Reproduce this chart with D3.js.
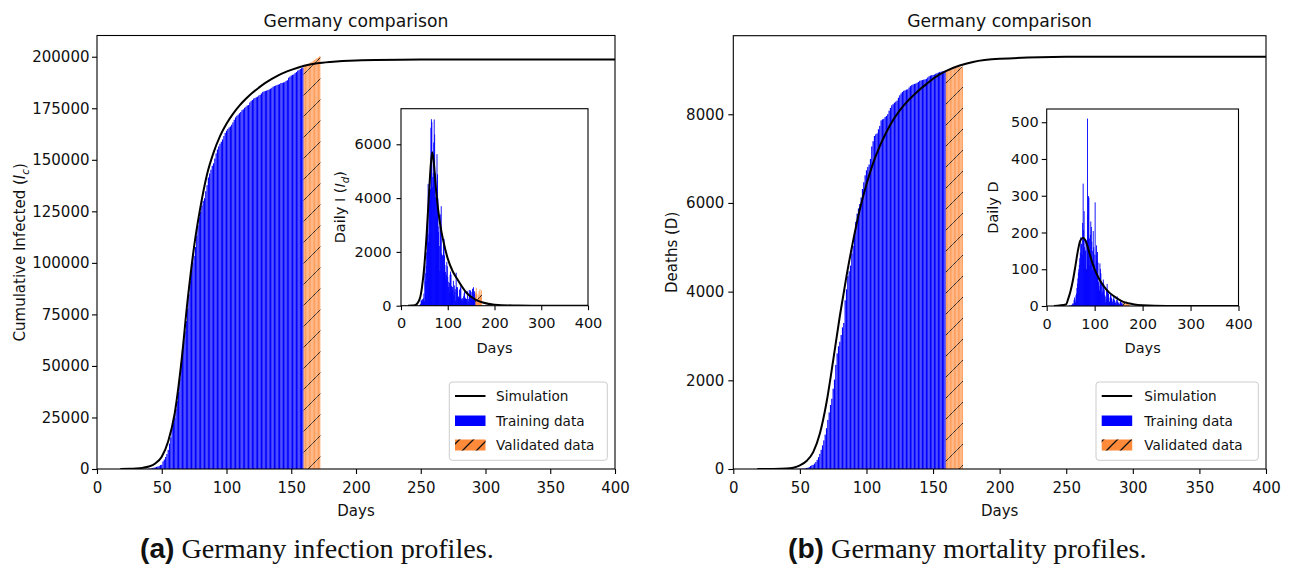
<!DOCTYPE html>
<html><head><meta charset="utf-8">
<script src="https://cdn.jsdelivr.net/npm/d3@7"></script>
<style>
body{margin:0;background:#fff}
svg{display:block}
text{font-family:"DejaVu Sans",sans-serif;fill:#111}
</style></head>
<body><svg id="c" width="1295" height="567"></svg>
<script>
// ---------------- DATA ----------------
const dataStartDay = 40;     // first day of the data arrays
const trainEndDay = 159;     // last day of training data (later days = validated data)

// cumulative confirmed infections, days 40..172
const cumInfected = [
159,196,262,482,670,799,1040,1176,1457,1908,
2078,3675,4585,5795,7272,9257,12327,15320,19848,22213,
24873,29056,32986,37323,43938,50871,57695,62095,66885,71808,
77872,84794,91159,96092,100123,103374,107663,113296,118181,122171,
124908,127854,130072,131359,134753,137698,141397,143342,145184,147065,
148291,150648,153129,154999,156513,157770,158758,159912,161539,163009,
164077,164967,165664,166152,167007,168162,169430,170588,171324,171879,
172576,173171,174098,174478,175233,175752,176369,176551,177778,178473,
179021,179710,179986,180328,180600,181200,181524,182196,182922,183189,
183410,183594,183879,184121,184472,184924,185450,185750,186022,186269,
186522,186691,187226,187267,187518,187671,188252,188604,189817,190359,
190862,191216,191449,192079,192556,193243,193499,194036,194458,194725,
195228,195893,196335,196554,196780,197198,197523,198064,198343,198963,
199375,199709,200260];

// daily new infections, days 40..172
const dailyInfected = [
29,37,66,220,188,129,241,136,281,451,
170,1597,910,1210,1477,1985,3070,2993,4528,2365,
2660,4183,3930,4337,6615,6933,6824,4400,4790,4923,
6064,6922,6365,4933,4031,3251,4289,5633,4885,3990,
2737,2946,2218,1287,3394,2945,3699,1945,1842,1881,
1226,2357,2481,1870,1514,1257,988,1154,1627,1470,
1068,890,697,488,855,1155,1268,1158,736,555,
697,595,927,380,755,519,617,182,1227,695,
548,689,276,342,272,600,324,672,726,267,
221,184,285,242,351,452,526,300,272,247,
253,169,535,41,251,153,581,352,580,542,
503,354,233,630,477,687,256,537,422,267,
503,665,442,219,226,418,325,541,279,620,
412,334,571];

// cumulative deaths, days 40..172
const cumDeaths = [
0,0,0,0,0,0,0,2,2,3,
3,5,8,11,16,24,28,44,67,84,
94,123,157,206,267,342,433,533,645,775,
920,1107,1275,1444,1584,1810,2016,2349,2607,2767,
2871,3022,3194,3294,3804,4052,4352,4459,4586,4862,
5033,5279,5575,5760,5877,5976,6126,6314,6467,6623,
6736,6812,6866,6993,7275,7392,7510,7549,7569,7661,
7738,7861,7884,7897,7938,7962,8003,8081,8144,8203,
8228,8261,8283,8309,8372,8428,8470,8504,8530,8540,
8555,8563,8602,8635,8658,8673,8685,8692,8709,8729,
8755,8763,8772,8781,8787,8800,8830,8856,8872,8882,
8887,8895,8914,8928,8940,8954,8961,8968,8976,8985,
8990,9000,9010,9015,9020,9024,9032,9044,9052,9060,
9064,9067,9071];

// daily deaths, days 40..172
const dailyDeaths = [
0,0,0,0,0,0,0,2,0,1,
0,2,3,3,5,8,4,16,23,17,
10,29,34,49,61,75,91,100,112,130,
145,187,168,169,140,226,333,206,258,160,
104,151,172,100,180,510,248,299,295,184,
110,194,230,215,175,98,150,204,160,140,
113,282,94,139,165,123,147,118,66,54,
42,116,101,89,67,33,39,63,72,60,
45,30,26,10,18,45,60,43,39,33,
10,12,23,31,30,22,18,12,6,20,
26,17,14,10,8,4,16,26,12,10,
8,3,5,10,12,14,7,6,3,8,
12,9,8,7,3,4,6,12,9,8,
5,2,6];

const simDaysCumI = [18,25,30,35,40,45,50,55,60,65,70,75,80,85,90,95,100,105,110,115,120,125,130,135,140,145,150,160,170,180,200,250,300,400];
const simCumI     = [0,100,250,550,1200,2700,6000,13500,27000,51000,82000,108000,127500,143000,153500,161500,167500,172300,176300,179600,182500,185000,187300,189300,191000,192400,193600,195600,196800,197500,198200,198600,198700,198700];

const simDaysCumD = [18,30,40,45,50,55,60,65,70,75,80,85,90,95,100,105,110,115,120,125,130,135,140,145,150,155,160,170,180,200,250,300,400];
const simCumD     = [0,2,10,30,80,180,380,800,1500,2450,3450,4350,5150,5850,6420,6900,7280,7600,7870,8090,8270,8420,8560,8680,8800,8900,8980,9100,9180,9250,9295,9300,9300];

const simDaysDailyI = [15,30,40,45,50,55,60,64,67,70,75,80,85,90,100,110,120,130,140,150,160,175,200,250,300,400];
const simDailyI     = [0,20,250,700,1500,2700,4200,5300,5700,5350,4300,3500,2900,2450,1750,1300,1000,720,480,330,220,120,40,5,0,0];

const simDaysDailyD = [15,40,45,50,55,60,65,70,76,80,85,90,95,100,110,120,130,140,150,160,180,200,250,400];
const simDailyD     = [0,4,20,42,72,110,150,178,186,180,163,140,118,100,72,52,37,27,18,11,5,2,0,0];

// ticks
const xTicksMain  = [0,50,100,150,200,250,300,350,400];
const xTicksInset = [0,100,200,300,400];
const yTicksCumI  = [0,25000,50000,75000,100000,125000,150000,175000,200000];
const yTicksCumD  = [0,2000,4000,6000,8000];
const yTicksDailyI = [0,2000,4000,6000];
const yTicksDailyD = [0,100,200,300,400,500];

const legendLabels = ["Simulation","Training data","Validated data"];
const titleText = "Germany comparison";

// ---------------- DRAWING ----------------
const COL = {train:"#0000ff", valid:"#ff8a3a", sim:"#000"};
const svg = d3.select("#c");
const defs = svg.append("defs");
defs.append("pattern").attr("id","hatch").attr("patternUnits","userSpaceOnUse")
  .attr("width",21).attr("height",21)
  .append("path").attr("d","M0,21L21,0M-6,6L6,-6M15,27L27,15")
  .attr("stroke","#222").attr("stroke-width",1);
defs.append("pattern").attr("id","hatchLeg").attr("patternUnits","userSpaceOnUse")
  .attr("width",14).attr("height",14).attr("x",3).attr("y",0)
  .append("path").attr("d","M0,14L14,0M-4,4L4,-4M10,18L18,10")
  .attr("stroke","#111").attr("stroke-width",1.3);

function axes(o){
  const [x0,y0,x1,y1] = o.box;
  const g = svg.append("g");
  const xs = d3.scaleLinear().domain([0,400]).range([x0,x1]);
  const ys = d3.scaleLinear().domain(o.yDomain).range([y1,y0]);
  if(o.bg) g.append("rect").attr("x",x0).attr("y",y0).attr("width",x1-x0).attr("height",y1-y0).attr("fill","#fff");
  defs.append("clipPath").attr("id","clip"+o.id).append("rect")
    .attr("x",x0).attr("y",y0).attr("width",x1-x0).attr("height",y1-y0);
  const plot = g.append("g").attr("clip-path",`url(#clip${o.id})`);
  const days = d3.range(dataStartDay, dataStartDay + o.values.length);
  const pts = days.map((d,i)=>({d, v:o.values[i]})).filter(p=>p.v>0);
  const bw = p => Math.max(xs(p.d+o.bar/2)-xs(p.d-o.bar/2), o.minW);
  const bx = p => xs(p.d) - bw(p)/2;
  plot.selectAll(null).data(pts).join("rect")
    .attr("x",bx).attr("width",bw)
    .attr("y",p=>ys(p.v)).attr("height",p=>ys(0)-ys(p.v))
    .attr("fill",p=>p.d<=trainEndDay?COL.train:COL.valid)
    .attr("fill-opacity",p=>p.d<=trainEndDay?1:0.82);
  plot.selectAll(null).data(pts.filter(p=>p.d>trainEndDay)).join("rect")
    .attr("x",bx).attr("width",bw)
    .attr("y",p=>ys(p.v)).attr("height",p=>ys(0)-ys(p.v))
    .attr("fill","url(#hatch)");
  plot.append("path")
    .datum(o.simDays.map((d,i)=>[d,o.simVals[i]]))
    .attr("d",d3.line().x(d=>xs(d[0])).y(d=>ys(d[1])).curve(d3.curveMonotoneX))
    .attr("fill","none").attr("stroke",COL.sim).attr("stroke-width",2);
  g.append("rect").attr("x",x0).attr("y",y0).attr("width",x1-x0).attr("height",y1-y0)
    .attr("fill","none").attr("stroke","#000").attr("stroke-width",1.1);
  const ax = g.append("g").attr("transform",`translate(0,${y1})`)
    .call(d3.axisBottom(xs).tickValues(o.xTicks).tickSize(o.tick).tickPadding(8).tickSizeOuter(0).tickFormat(d3.format("d")));
  const ay = g.append("g").attr("transform",`translate(${x0},0)`)
    .call(d3.axisLeft(ys).tickValues(o.yTicks).tickSize(o.tick).tickPadding(o.ypad).tickSizeOuter(0).tickFormat(d3.format("d")));
  [ax,ay].forEach(a=>{
    a.select(".domain").remove();
    a.attr("font-size",o.fs).attr("font-family","DejaVu Sans");
    a.selectAll("line").attr("stroke","#000").attr("stroke-width",1.1);
    a.selectAll("text").attr("fill","#111");
  });
  g.append("text").attr("x",(x0+x1)/2).attr("y",o.xlabelY).attr("text-anchor","middle")
    .attr("font-size",o.fs).text("Days");
  const yl = g.append("text").attr("transform",`translate(${o.ylabelX},${(y0+y1)/2}) rotate(-90)`)
    .attr("text-anchor","middle").attr("font-size",o.fs);
  o.ylabel.forEach(part=>{
    const t = yl.append("tspan").text(part.t);
    if(part.it) t.attr("font-style","italic");
    if(part.sub) t.attr("font-size",o.fs*0.7).attr("dy",4);
    if(part.up) t.attr("dy",-4);
  });
  return {xs,ys,g};
}

function legend(b){
  const g = svg.append("g");
  g.append("rect").attr("x",b.x).attr("y",382).attr("width",b.w).attr("height",78.3).attr("rx",3)
    .attr("fill","#fff").attr("fill-opacity",0.8).attr("stroke","#cccccc").attr("stroke-width",1);
  const lx = b.x + 5.7, tx = b.tx;
  g.append("line").attr("x1",lx).attr("x2",lx+30.5).attr("y1",396).attr("y2",396)
    .attr("stroke","#000").attr("stroke-width",2);
  g.append("rect").attr("x",lx).attr("y",415.5).attr("width",30.5).attr("height",10.5).attr("fill",COL.train);
  g.append("rect").attr("x",lx).attr("y",439.5).attr("width",30.5).attr("height",11).attr("fill",COL.valid);
  g.append("rect").attr("x",lx).attr("y",439.5).attr("width",30.5).attr("height",11).attr("fill","url(#hatchLeg)");
  [401,425.5,450].forEach((y,i)=>g.append("text").attr("x",tx).attr("y",y).attr("font-size",13.6).text(legendLabels[i]));
}

// ---- panel (a) ----
axes({id:"a", box:[97,35.5,615,469], yDomain:[0,210300], values:cumInfected, bar:0.9, minW:0,
  simDays:simDaysCumI, simVals:simCumI, xTicks:xTicksMain, yTicks:yTicksCumI,
  fs:15, tick:5, ypad:2.5, xlabelY:515.5, ylabelX:24.5,
  ylabel:[{t:"Cumulative Infected ("},{t:"I",it:true},{t:"c",sub:true,it:true},{t:")",up:true}]});
legend({x:449.3, w:158, tx:496});
axes({id:"ai", bg:true, box:[401,108.7,588,305.7], yDomain:[0,7323], values:dailyInfected, bar:0.8, minW:0.9,
  simDays:simDaysDailyI, simVals:simDailyI, xTicks:xTicksInset, yTicks:yTicksDailyI,
  fs:14.5, tick:4.5, ypad:5, xlabelY:352.5, ylabelX:344.5,
  ylabel:[{t:"Daily I ("},{t:"I",it:true},{t:"d",sub:true,it:true},{t:")",up:true}]});

// ---- panel (b) ----
axes({id:"b", box:[733.3,35.7,1266,469], yDomain:[0,9772], values:cumDeaths, bar:0.9, minW:0,
  simDays:simDaysCumD, simVals:simCumD, xTicks:xTicksMain, yTicks:yTicksCumD,
  fs:15, tick:5, ypad:4, xlabelY:515.5, ylabelX:676.5,
  ylabel:[{t:"Deaths (D)"}]});
legend({x:1096, w:162.3, tx:1144.3});
axes({id:"bi", bg:true, box:[1046.7,109,1238.5,306], yDomain:[0,536], values:dailyDeaths, bar:0.8, minW:0.9,
  simDays:simDaysDailyD, simVals:simDailyD, xTicks:xTicksInset, yTicks:yTicksDailyD,
  fs:14.5, tick:5, ypad:3, xlabelY:352.5, ylabelX:998,
  ylabel:[{t:"Daily D"}]});

// titles
[[356,titleText],[999.6,titleText]].forEach(([x,t])=>
  svg.append("text").attr("x",x).attr("y",26.5).attr("text-anchor","middle").attr("font-size",17.2).text(t));

// captions
[[140,"(a)"," Germany infection profiles."],[788,"(b)"," Germany mortality profiles."]].forEach(([x,a,b])=>{
  const t = svg.append("text").attr("x",x).attr("y",558).attr("font-size",28.2);
  t.append("tspan").attr("font-family","Liberation Sans, Arial, sans-serif").attr("font-weight","bold").text(a);
  t.append("tspan").attr("font-family","Liberation Serif, Times New Roman, serif").text(b);
});
</script>
</body></html>
